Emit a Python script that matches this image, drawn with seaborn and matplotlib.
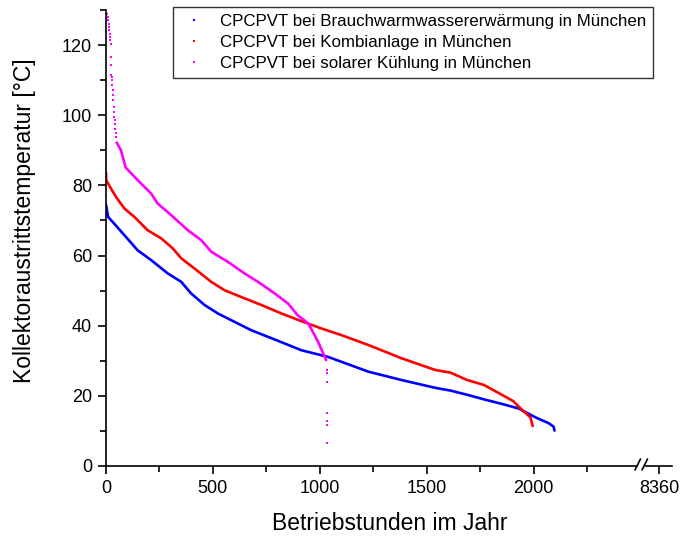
import matplotlib
matplotlib.use("Agg")
import matplotlib.pyplot as plt
from matplotlib.lines import Line2D
from matplotlib.ticker import MultipleLocator
import seaborn as sns
import pandas as pd

# Operating-hour duration curves of the collector outlet temperature
labels = [
    "CPCPVT bei Brauchwarmwassererwärmung in München",
    "CPCPVT bei Kombianlage in München",
    "CPCPVT bei solarer Kühlung in München",
]
colors = ["#0000ff", "#ff0000", "#ff00ff"]

blue_hours = [0, 10, 31, 86, 148, 211, 289, 352, 398, 461, 523, 601, 680, 800,
              914, 1039, 1227, 1383, 1539, 1612, 1696, 1768, 1852, 1930, 2008,
              2071, 2094, 2098]
blue_temp = [74.5, 71.0, 69.6, 65.8, 61.5, 58.7, 54.9, 52.5, 49.2, 45.9, 43.5,
             41.1, 38.7, 35.8, 33.0, 31.1, 26.9, 24.5, 22.3, 21.5, 20.2, 19.0,
             17.7, 16.4, 13.9, 12.2, 11.2, 10.1]

red_hours = [0, 1, 28, 47, 86, 133, 195, 258, 313, 352, 414, 492, 555, 648, 727,
             820, 914, 1008, 1102, 1227, 1383, 1539, 1612, 1690, 1768, 1852,
             1905, 1946, 1985, 1996]
red_temp = [83.7, 81.5, 78.6, 76.7, 73.4, 71.0, 67.2, 64.9, 62.0, 59.2, 56.3,
            52.5, 50.1, 47.8, 45.9, 43.5, 41.3, 39.2, 37.3, 34.5, 30.7, 27.4,
            26.6, 24.5, 23.1, 20.3, 18.5, 16.0, 13.9, 11.4]

# solar cooling: sparse hot hours, dense main part, sparse cold tail
mag_top_hours = [6, 9, 11, 13, 14, 15, 17, 19, 20, 22, 23, 23, 25, 27, 28, 30,
                 31, 33, 34, 36, 37, 39, 41, 42, 44, 45, 47]
mag_top_temp = [129.0, 128.0, 127.1, 126.1, 125.2, 124.2, 123.3, 122.3, 121.4,
                120.4, 116.6, 114.4, 111.6, 110.9, 110.0, 108.5, 107.1, 105.7,
                104.3, 102.4, 100.9, 99.5, 98.6, 97.6, 96.2, 94.8, 93.8]
mag_hours = [50, 70, 92, 148, 211, 242, 305, 383, 445, 492, 570, 648, 711, 789,
             852, 896, 945, 961, 992, 1016, 1030]
mag_temp = [92.2, 90.0, 85.1, 81.5, 77.7, 74.8, 71.5, 67.2, 64.4, 61.1, 58.2,
            54.9, 52.5, 49.2, 46.3, 43.0, 40.7, 39.0, 35.4, 32.1, 30.2]
mag_tail_hours = [1032, 1032, 1032, 1033, 1033, 1033, 1034]
mag_tail_temp = [27.4, 26.4, 24.0, 15.0, 12.9, 11.7, 6.6]

sns.set_style("ticks")
plt.rcParams["font.family"] = ["Liberation Sans", "DejaVu Sans"]
plt.rcParams.update({
    "axes.linewidth": 1.2,
    "axes.edgecolor": "black",
    "axes.labelcolor": "black",
    "text.color": "black",
    "xtick.color": "black",
    "ytick.color": "black",
})

W, H = 684, 537
fig = plt.figure(figsize=(W / 100, H / 100), dpi=100)
left, bottom, top, right = 106 / W, 1 - 466 / H, 1 - 10 / H, 637 / W
ax = fig.add_axes([left, bottom, right - left, top - bottom])
ax2 = fig.add_axes([646 / W, bottom, (672 - 646) / W, top - bottom])

lw = 1.9
sns.lineplot(data=pd.DataFrame({"h": blue_hours, "t": blue_temp}), x="h", y="t",
             ax=ax, color=colors[0], lw=lw, sort=False, estimator=None)
sns.lineplot(data=pd.DataFrame({"h": red_hours, "t": red_temp}), x="h", y="t",
             ax=ax, color=colors[1], lw=lw, sort=False, estimator=None)
sns.lineplot(data=pd.DataFrame({"h": mag_hours, "t": mag_temp}), x="h", y="t",
             ax=ax, color=colors[2], lw=lw, sort=False, estimator=None)
sns.scatterplot(x=mag_top_hours + mag_tail_hours, y=mag_top_temp + mag_tail_temp,
                ax=ax, color=colors[2], s=4, marker="s", linewidth=0)

ax.set_xlim(0, 2484)
ax.set_ylim(0, 130)
ax.xaxis.set_major_locator(MultipleLocator(500))
ax.xaxis.set_minor_locator(MultipleLocator(250))
ax.yaxis.set_major_locator(MultipleLocator(20))
ax.yaxis.set_minor_locator(MultipleLocator(10))
for a in (ax, ax2):
    a.tick_params(which="major", length=6, width=1.2, labelsize=13, pad=4)
    a.tick_params(which="minor", length=4, width=1.2)
sns.despine(ax=ax)

ax.set_xlabel("Betriebstunden im Jahr", fontsize=16.5)
ax.set_ylabel("Kollektoraustrittstemperatur [°C]", fontsize=16.5)
ax.xaxis.set_label_coords(0.534, -0.1)
ax.yaxis.set_label_coords(-0.132, 0.537)

# right segment of the broken x axis
ax2.set_xlim(8299, 8421)
ax2.set_ylim(0, 130)
ax2.set_xticks([8360])
ax2.set_yticks([])
ax2.patch.set_visible(False)
for s in ("left", "top", "right"):
    ax2.spines[s].set_visible(False)
ax2.set_xlabel("")
ax2.set_ylabel("")

# break marks
for x0 in (635, 642):
    fig.add_artist(Line2D([x0 / W, (x0 + 5.5) / W], [1 - 470 / H, 1 - 459 / H],
                          transform=fig.transFigure, color="black", lw=1.2))

handles = [Line2D([], [], marker="s", markersize=2, linestyle="None",
                  color=c, markeredgewidth=0) for c in colors]
leg = ax.legend(handles, labels, loc="upper left",
                bbox_to_anchor=(173 / W, 1 - 7 / H), bbox_transform=fig.transFigure,
                fontsize=12.2, frameon=True, fancybox=False, borderpad=0.42,
                handlelength=1.64, handletextpad=0.7, labelspacing=0.36,
                borderaxespad=0)
leg.get_frame().set_edgecolor("black")
leg.get_frame().set_linewidth(1.0)

fig.savefig("out.png", dpi=100)
